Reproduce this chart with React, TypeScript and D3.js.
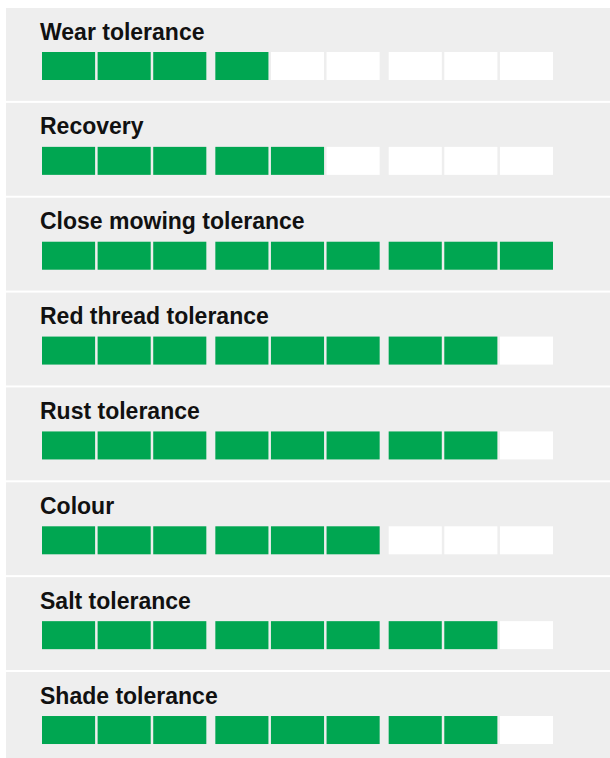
import React from 'react';
import * as d3 from 'd3';

// traits and their scores out of 9
const traits = [
  'Wear tolerance',
  'Recovery',
  'Close mowing tolerance',
  'Red thread tolerance',
  'Rust tolerance',
  'Colour',
  'Salt tolerance',
  'Shade tolerance',
];
const scores = [4, 5, 9, 8, 8, 6, 8, 8];
const groups = [0, 1, 2];
const cellsPerGroup = [0, 1, 2];

const width = 610;
const height = 758;
const panelLeft = 6;
const panelTop = 8;
const panelPitch = 94.86;
const panelGap = 2;

export default function App() {
  const panelY = d3.scaleLinear().domain([0, 1]).range([panelTop, panelTop + panelPitch]);

  const groupX = d3.scaleBand<number>().domain(groups).range([42, 553]).paddingInner(0.052);
  const cellX = d3.scaleBand<number>().domain(cellsPerGroup).range([0, groupX.bandwidth()]).paddingInner(0.045);

  return (
    <svg
      width={width}
      height={height}
      style={{ position: 'absolute', left: 0, top: 0, background: '#fff' }}
    >
      {traits.map((t, i) => {
        const y0 = panelY(i);
        return (
          <g key={t} transform={'translate(0,' + y0 + ')'}>
            <rect x={panelLeft} y={0} width={width - panelLeft + 10} height={panelPitch - panelGap} fill="#eeeeee" />
            <text
              x={40}
              y={31.5}
              fontFamily="'Liberation Sans', Arial, sans-serif"
              fontWeight="bold"
              fontSize={23}
              fill="#111"
            >
              {t}
            </text>
            {groups.map((g) =>
              cellsPerGroup.map((c) => {
                const n = g * 3 + c + 1;
                return (
                  <rect
                    key={g + '-' + c}
                    x={(groupX(g) as number) + (cellX(c) as number)}
                    y={44}
                    width={cellX.bandwidth()}
                    height={28}
                    fill={n <= scores[i] ? '#00a651' : '#ffffff'}
                  />
                );
              })
            )}
          </g>
        );
      })}
    </svg>
  );
}
